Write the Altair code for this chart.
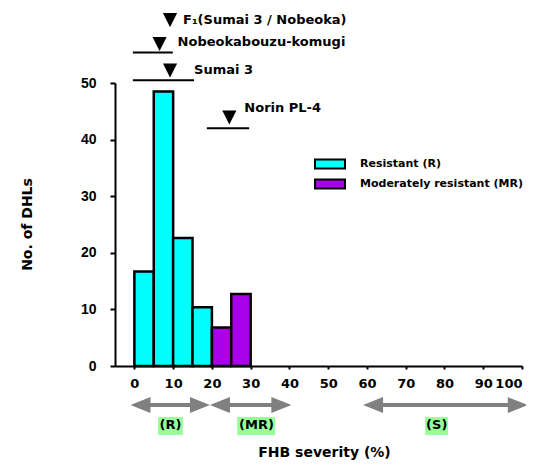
import altair as alt
import pandas as pd

# ---- data ----
bin_start = [0, 5, 10, 15, 20, 25]
bin_end = [5, 10, 15, 20, 25, 30]
counts = [16.7, 48.5, 22.6, 10.4, 6.8, 12.7]
classes = ["Resistant (R)"] * 4 + ["Moderately resistant (MR)"] * 2
class_names = ["Resistant (R)", "Moderately resistant (MR)"]
class_colors = ["#00FFFF", "#A800E8"]

cultivars = ["F₁(Sumai 3 / Nobeoka)", "Nobeokabouzu-komugi", "Sumai 3", "Norin PL-4"]
marker_x = [9.2, 6.5, 9.2, 24.5]
marker_y = [61.1, 56.9, 52.2, 43.9]

range_names = ["Nobeokabouzu-komugi", "Sumai 3", "Norin PL-4"]
range_lo = [-0.4, -0.4, 18.7]
range_hi = [9.9, 15.4, 29.6]
range_y = [55.4, 50.5, 42.0]

class_labels = ["(R)", "(MR)", "(S)"]
class_lo = [-1.0, 19.5, 59.0]
class_hi = [19.5, 40.5, 101.5]
class_mid = [9.3, 31.5, 78.0]
box_lo = [6.1, 26.5, 75.0]
box_hi = [12.5, 36.3, 80.9]
arrow_y = -6.9
label_y = -10.4
box_y1 = -9.0
box_y2 = -12.2

x_ticks = list(range(0, 101, 5))
y_ticks = list(range(0, 51, 5))

# ---- tables ----
df_bars = pd.DataFrame({"start": bin_start, "end": bin_end, "count": counts,
                        "base": [0] * len(counts), "cls": classes})
df_mark = pd.DataFrame({"name": cultivars, "x": marker_x, "y": marker_y})
df_range = pd.DataFrame({"name": range_names, "lo": range_lo, "hi": range_hi, "y": range_y})
df_cls = pd.DataFrame({"label": class_labels, "lo": class_lo, "hi": class_hi, "mid": class_mid,
                       "blo": box_lo, "bhi": box_hi, "ay": arrow_y, "ly": label_y,
                       "by1": box_y1, "by2": box_y2})

FONT = "DejaVu Sans"
xscale = alt.Scale(domain=[-5, 100], nice=False, zero=False)
yscale = alt.Scale(domain=[0, 50], nice=False)

xaxis = alt.Axis(
    values=x_ticks,
    labelExpr="datum.value % 10 == 0 ? datum.label : ''",
    tickSize=3, tickWidth=2, tickColor="black",
    domainColor="black", domainWidth=2,
    labelFont=FONT, labelFontWeight="bold", labelFontSize=13, labelColor="black",
    labelPadding=8, labelFlush=True, labelOverlap=False, grid=False,
    titleFont=FONT, titleFontWeight="bold", titleFontSize=14, titleColor="black",
    titleX=209, titleY=86, titleBaseline="middle", titleAnchor="middle",
)
yaxis = alt.Axis(
    values=y_ticks,
    labelExpr="datum.value % 10 == 0 ? datum.label : ''",
    tickSize=5, tickWidth=2, tickColor="black",
    domainColor="black", domainWidth=2,
    labelFont="Liberation Sans", labelFontWeight="bold", labelFontSize=14, labelColor="black",
    labelPadding=14, labelFlush=False, labelOverlap=False, grid=False,
    titleFont=FONT, titleFontWeight="bold", titleFontSize=14, titleColor="black",
    titleX=-88, titleY=141, titleAngle=-90, titleBaseline="middle",
)

bars = alt.Chart(df_bars).mark_bar(stroke="black", strokeWidth=2.5, opacity=1).encode(
    x=alt.X("start:Q", scale=xscale, axis=xaxis, title="FHB severity (%)"),
    x2="end:Q",
    y=alt.Y("count:Q", scale=yscale, axis=yaxis, title="No. of DHLs"),
    y2="base:Q",
    color=alt.Color(
        "cls:N",
        scale=alt.Scale(domain=class_names, range=class_colors),
        legend=alt.Legend(
            orient="none", legendX=209, legendY=75, title=None,
            symbolType="M-3,-0.9H3V0.9H-3Z", symbolSize=100,
            symbolStrokeColor="black", symbolStrokeWidth=2, symbolOpacity=1,
            labelFont=FONT, labelFontWeight="bold", labelFontSize=11, labelColor="black",
            labelOffset=24, labelLimit=400, rowPadding=2, padding=0,
        ),
    ),
)

ranges = alt.Chart(df_range).mark_rule(color="black", strokeWidth=2).encode(
    x=alt.X("lo:Q", scale=xscale), x2="hi:Q", y=alt.Y("y:Q", scale=yscale)
)

tris = alt.Chart(df_mark).mark_point(
    shape="M-1,-1L1,-1L0,1Z", filled=True, fill="black", size=200, opacity=1, strokeWidth=0
).encode(x=alt.X("x:Q", scale=xscale), y=alt.Y("y:Q", scale=yscale))

offsets = {
    "F₁(Sumai 3 / Nobeoka)": (13, 0),
    "Nobeokabouzu-komugi": (18, -2),
    "Sumai 3": (24, -1),
    "Norin PL-4": (15, -10),
}
texts = []
for name, (dx, dy) in offsets.items():
    texts.append(
        alt.Chart(df_mark).transform_filter(alt.datum.name == name).mark_text(
            align="left", baseline="middle", dx=dx, dy=dy,
            font=FONT, fontWeight="bold", fontSize=13, color="black",
        ).encode(x=alt.X("x:Q", scale=xscale), y=alt.Y("y:Q", scale=yscale), text="name:N")
    )

GRAY = "#808080"
shaft = alt.Chart(df_cls).transform_calculate(
    s="datum.lo + 1.5", e="datum.hi - 1.5"
).mark_rule(color=GRAY, strokeWidth=4).encode(
    x=alt.X("s:Q", scale=xscale), x2="e:Q", y=alt.Y("ay:Q", scale=yscale)
)
head_r = alt.Chart(df_cls).mark_point(
    shape="M0,0L-1,-0.4L-1,0.4Z", filled=True, fill=GRAY, size=1600, opacity=1, strokeWidth=0
).encode(x=alt.X("hi:Q", scale=xscale), y=alt.Y("ay:Q", scale=yscale))
head_l = alt.Chart(df_cls).mark_point(
    shape="M0,0L1,-0.4L1,0.4Z", filled=True, fill=GRAY, size=1600, opacity=1, strokeWidth=0
).encode(x=alt.X("lo:Q", scale=xscale), y=alt.Y("ay:Q", scale=yscale))

boxes = alt.Chart(df_cls).mark_rect(color="#99FF99").encode(
    x=alt.X("blo:Q", scale=xscale), x2="bhi:Q",
    y=alt.Y("by1:Q", scale=yscale), y2="by2:Q",
)
cls_text = alt.Chart(df_cls).mark_text(
    align="center", baseline="middle", font=FONT, fontWeight="bold", fontSize=13, color="black"
).encode(x=alt.X("mid:Q", scale=xscale), y=alt.Y("ly:Q", scale=yscale), text="label:N")

chart = alt.layer(
    bars, ranges, tris, *texts, boxes, cls_text, shaft, head_r, head_l
).properties(
    width=407, height=283,
    autosize=alt.AutoSizeParams(type="none"),
    padding={"left": 107, "top": 75, "right": 4, "bottom": 94},
).configure_view(stroke=None)

chart.save("out.html", embed_options={"renderer": "svg", "actions": False})
